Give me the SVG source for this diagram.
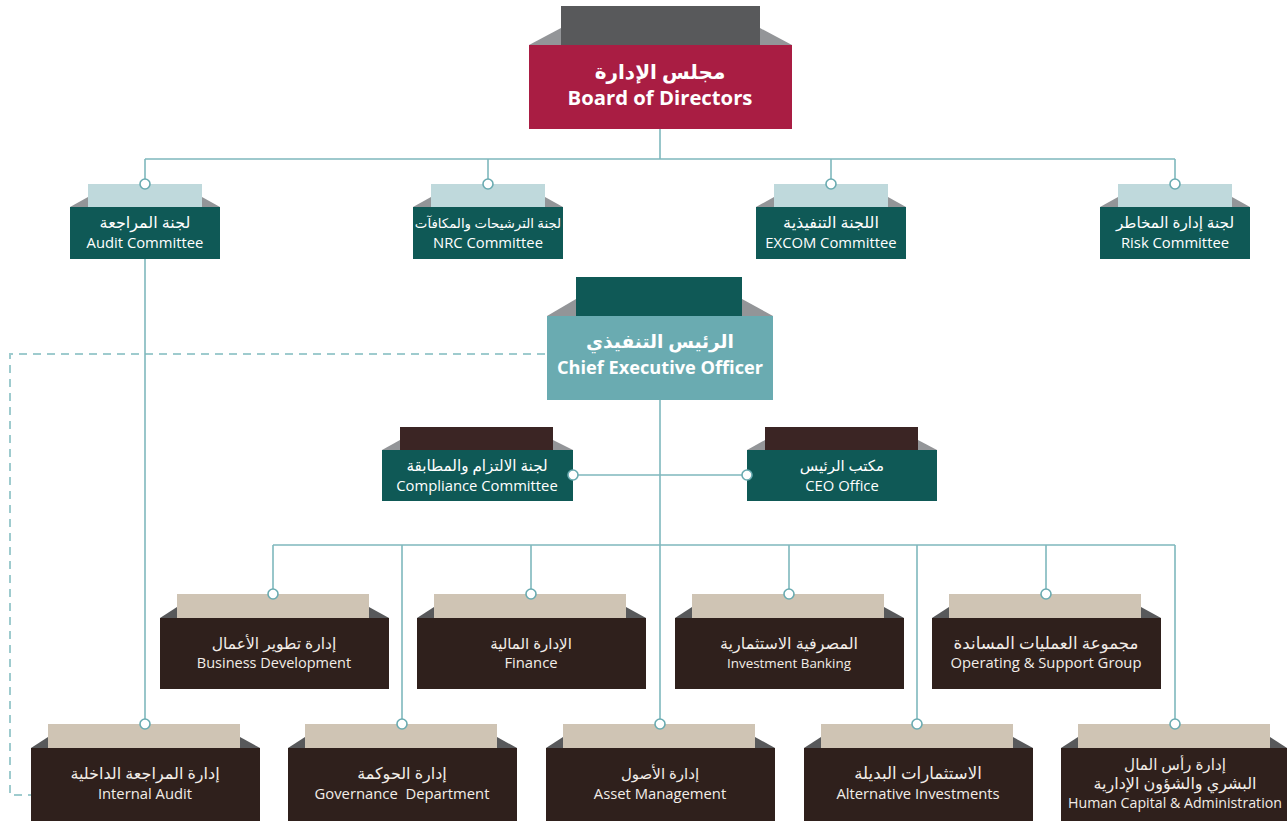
<svg xmlns="http://www.w3.org/2000/svg" width="1287" height="821" viewBox="0 0 1287 821">
<style>
text{font-family:"Open Sans","DejaVu Sans",sans-serif;text-anchor:middle;}
.t{fill:#ffffff;font-size:14.8px;}
.tb{fill:#f2ede8;font-size:14.8px;}
.a{font-size:16px;}
.big{fill:#ffffff;font-weight:bold;}
.ln{fill:none;stroke:#7fb8bd;stroke-width:1.6;}
.dash{fill:none;stroke:#9ecbce;stroke-width:2;stroke-dasharray:8 6;}
.dot{fill:#ffffff;stroke:#6aabb1;stroke-width:1.6;}
.sl{fill:#939598;}
.sd{fill:#58595b;}
.teal{fill:#0f5956;}
.brown{fill:#2f201c;}
.beige{fill:#cfc4b4;}
.lblue{fill:#bfd9dc;}
.dbrown{fill:#3b2524;}
</style>
<rect width="1287" height="821" fill="#ffffff"/>
<g id="board">
<polygon class="sl" points="529,45 561,28 561,45"/>
<polygon class="sl" points="792,45 760,28 760,45"/>
<rect x="561" y="6" width="199" height="39" fill="#58595b"/>
<rect x="529" y="45" width="263" height="84" fill="#a91d43"/>
<text class="big" x="660" y="79" style="font-size:20px">مجلس الإدارة</text>
<text class="big" x="660" y="105" style="font-size:20.3px">Board of Directors</text>
</g>
<g id="audit-committee">
<polygon class="sl" points="70,207 88,197 88,207"/>
<polygon class="sl" points="220,207 202,197 202,207"/>
<rect class="lblue" x="88" y="184" width="114" height="23"/>
<rect class="teal" x="70" y="207" width="150" height="52"/>
<text class="t a" x="145" y="228">لجنة المراجعة</text>
<text class="t" x="145" y="248">Audit Committee</text>
</g>
<g id="nrc-committee">
<polygon class="sl" points="413,207 431,197 431,207"/>
<polygon class="sl" points="563,207 545,197 545,207"/>
<rect class="lblue" x="431" y="184" width="114" height="23"/>
<rect class="teal" x="413" y="207" width="150" height="52"/>
<text class="t" x="488" y="228" style="font-size:13.3px">لجنة الترشيحات والمكافآت</text>
<text class="t" x="488" y="248">NRC Committee</text>
</g>
<g id="excom-committee">
<polygon class="sl" points="756,207 774,197 774,207"/>
<polygon class="sl" points="906,207 888,197 888,207"/>
<rect class="lblue" x="774" y="184" width="114" height="23"/>
<rect class="teal" x="756" y="207" width="150" height="52"/>
<text class="t a" x="831" y="228">اللجنة التنفيذية</text>
<text class="t" x="831" y="248">EXCOM Committee</text>
</g>
<g id="risk-committee">
<polygon class="sl" points="1100,207 1118,197 1118,207"/>
<polygon class="sl" points="1250,207 1232,197 1232,207"/>
<rect class="lblue" x="1118" y="184" width="114" height="23"/>
<rect class="teal" x="1100" y="207" width="150" height="52"/>
<text class="t" x="1175" y="228" style="font-size:15.2px">لجنة إدارة المخاطر</text>
<text class="t" x="1175" y="248">Risk Committee</text>
</g>
<g id="ceo">
<polygon class="sl" points="547,316 576,299 576,316"/>
<polygon class="sl" points="773,316 742,299 742,316"/>
<rect class="teal" x="576" y="277" width="166" height="39"/>
<rect x="547" y="316" width="226" height="84" fill="#6aabb1"/>
<text class="big" x="660" y="348" style="font-size:18.6px">الرئيس التنفيذي</text>
<text class="big" x="660" y="374" style="font-size:18.2px">Chief Executive Officer</text>
</g>
<g id="compliance-committee">
<polygon class="sl" points="382,450 400,440 400,450"/>
<polygon class="sl" points="573,450 553,440 553,450"/>
<rect class="dbrown" x="400" y="427" width="153" height="23"/>
<rect class="teal" x="382" y="450" width="191" height="51"/>
<text class="t" x="477" y="471" style="font-size:15.2px">لجنة الالتزام والمطابقة</text>
<text class="t" x="477" y="491">Compliance Committee</text>
</g>
<g id="ceo-office">
<polygon class="sl" points="747,450 765,440 765,450"/>
<polygon class="sl" points="937,450 918,440 918,450"/>
<rect class="dbrown" x="765" y="427" width="153" height="23"/>
<rect class="teal" x="747" y="450" width="190" height="51"/>
<text class="t" x="842" y="471" style="font-size:15px">مكتب الرئيس</text>
<text class="t" x="842" y="491">CEO Office</text>
</g>
<g id="business-development">
<polygon class="sd" points="160,618 177,607 177,618"/>
<polygon class="sd" points="389,618 369,607 369,618"/>
<rect class="beige" x="177" y="594" width="192" height="24"/>
<rect class="brown" x="160" y="618" width="229" height="71"/>
<text class="tb" x="274" y="649" style="font-size:15.5px">إدارة تطوير الأعمال</text>
<text class="tb" x="274" y="668" style="font-size:14.5px">Business Development</text>
</g>
<g id="finance">
<polygon class="sd" points="417,618 434,607 434,618"/>
<polygon class="sd" points="646,618 626,607 626,618"/>
<rect class="beige" x="434" y="594" width="192" height="24"/>
<rect class="brown" x="417" y="618" width="229" height="71"/>
<text class="tb" x="531" y="649" style="font-size:15px">الإدارة المالية</text>
<text class="tb" x="531" y="668">Finance</text>
</g>
<g id="investment-banking">
<polygon class="sd" points="675,618 692,607 692,618"/>
<polygon class="sd" points="904,618 884,607 884,618"/>
<rect class="beige" x="692" y="594" width="192" height="24"/>
<rect class="brown" x="675" y="618" width="229" height="71"/>
<text class="tb a" x="789" y="649">المصرفية الاستثمارية</text>
<text class="tb" x="789" y="668" style="font-size:13.4px">Investment Banking</text>
</g>
<g id="operating-support">
<polygon class="sd" points="932,618 949,607 949,618"/>
<polygon class="sd" points="1161,618 1141,607 1141,618"/>
<rect class="beige" x="949" y="594" width="192" height="24"/>
<rect class="brown" x="932" y="618" width="229" height="71"/>
<text class="tb" x="1046" y="649" style="font-size:16.6px">مجموعة العمليات المساندة</text>
<text class="tb" x="1046" y="668">Operating &amp; Support Group</text>
</g>
<g id="internal-audit">
<polygon class="sd" points="31,748 48,737 48,748"/>
<polygon class="sd" points="260,748 240,737 240,748"/>
<rect class="beige" x="48" y="724" width="192" height="24"/>
<rect class="brown" x="31" y="748" width="229" height="73"/>
<text class="tb a" x="145" y="779">إدارة المراجعة الداخلية</text>
<text class="tb" x="145" y="799">Internal Audit</text>
</g>
<g id="governance">
<polygon class="sd" points="288,748 305,737 305,748"/>
<polygon class="sd" points="517,748 497,737 497,748"/>
<rect class="beige" x="305" y="724" width="192" height="24"/>
<rect class="brown" x="288" y="748" width="229" height="73"/>
<text class="tb a" x="402" y="779">إدارة الحوكمة</text>
<text class="tb" x="402" y="799" xml:space="preserve">Governance  Department</text>
</g>
<g id="asset-management">
<polygon class="sd" points="546,748 563,737 563,748"/>
<polygon class="sd" points="775,748 755,737 755,748"/>
<rect class="beige" x="563" y="724" width="192" height="24"/>
<rect class="brown" x="546" y="748" width="229" height="73"/>
<text class="tb" x="660" y="779" style="font-size:15px">إدارة الأصول</text>
<text class="tb" x="660" y="799">Asset Management</text>
</g>
<g id="alternative-investments">
<polygon class="sd" points="804,748 821,737 821,748"/>
<polygon class="sd" points="1033,748 1013,737 1013,748"/>
<rect class="beige" x="821" y="724" width="192" height="24"/>
<rect class="brown" x="804" y="748" width="229" height="73"/>
<text class="tb" x="918" y="779" style="font-size:16.6px">الاستثمارات البديلة</text>
<text class="tb" x="918" y="799">Alternative Investments</text>
</g>
<g id="human-capital">
<polygon class="sd" points="1061,748 1078,737 1078,748"/>
<polygon class="sd" points="1287,748 1270,737 1270,748"/>
<rect class="beige" x="1078" y="724" width="192" height="24"/>
<rect class="brown" x="1061" y="748" width="226" height="73"/>
<text class="tb" x="1175" y="770" style="font-size:15.2px">إدارة رأس المال</text>
<text class="tb" x="1175" y="789" style="font-size:16px">البشري والشؤون الإدارية</text>
<text class="tb" x="1175" y="808" style="font-size:14.2px">Human Capital &amp; Administration</text>
</g>
<g id="connectors">
<path class="dash" d="M545 354 H10 V795 H31"/>
<path class="ln" d="M660 129 V159 M145 159 H1175 M145 159 V184 M488 159 V184 M831 159 V184 M1175 159 V184"/>
<path class="ln" d="M145 259 V724"/>
<path class="ln" d="M660 400 V724 M573 475 H747"/>
<path class="ln" d="M273 545 H1175 M273 545 V594 M402 545 V724 M531 545 V594 M789 545 V594 M917 545 V724 M1046 545 V594 M1175 545 V724"/>
<circle class="dot" cx="145" cy="184" r="5"/>
<circle class="dot" cx="488" cy="184" r="5"/>
<circle class="dot" cx="831" cy="184" r="5"/>
<circle class="dot" cx="1175" cy="184" r="5"/>
<circle class="dot" cx="573" cy="475" r="5"/>
<circle class="dot" cx="747" cy="475" r="5"/>
<circle class="dot" cx="273" cy="594" r="5"/>
<circle class="dot" cx="531" cy="594" r="5"/>
<circle class="dot" cx="789" cy="594" r="5"/>
<circle class="dot" cx="1046" cy="594" r="5"/>
<circle class="dot" cx="145" cy="724" r="5"/>
<circle class="dot" cx="402" cy="724" r="5"/>
<circle class="dot" cx="660" cy="724" r="5"/>
<circle class="dot" cx="917" cy="724" r="5"/>
<circle class="dot" cx="1175" cy="724" r="5"/>
</g>
</svg>
